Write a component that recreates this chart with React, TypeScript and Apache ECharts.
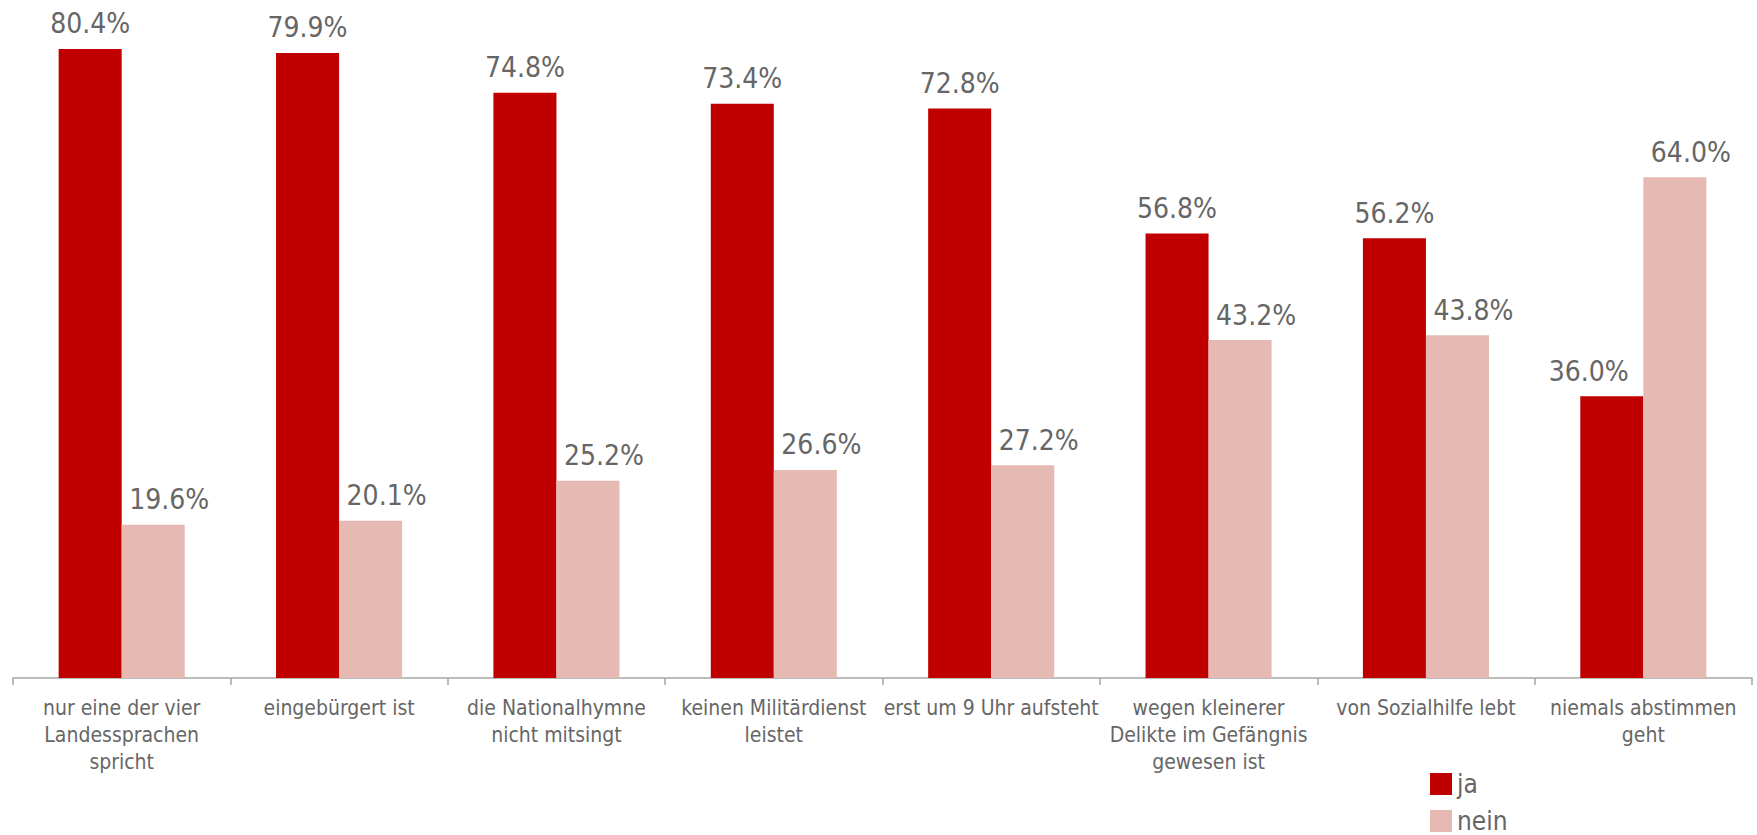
import React, { useEffect, useRef } from "react";
import * as echarts from "echarts";

const categories = [
  "nur eine der vier\nLandessprachen\nspricht",
  "eingebürgert ist",
  "die Nationalhymne\nnicht mitsingt",
  "keinen Militärdienst\nleistet",
  "erst um 9 Uhr aufsteht",
  "wegen kleinerer\nDelikte im Gefängnis\ngewesen ist",
  "von Sozialhilfe lebt",
  "niemals abstimmen\ngeht",
];
const jaValues = [80.4, 79.9, 74.8, 73.4, 72.8, 56.8, 56.2, 36.0];
const neinValues = [19.6, 20.1, 25.2, 26.6, 27.2, 43.2, 43.8, 64.0];
const seriesNames = ["ja", "nein"];

const FONT = "'DejaVu Sans Condensed', 'Liberation Sans Narrow', 'DejaVu Sans', sans-serif";
const TEXT = "#666666";

export default function App() {
  const ref = useRef<HTMLDivElement>(null);
  useEffect(() => {
    if (!ref.current) return;
    const chart = echarts.init(ref.current, undefined, { renderer: "svg" });
    const baseLabel = {
      show: true,
      position: "top" as const,
      distance: 11,
      color: TEXT,
      fontFamily: FONT,
      fontSize: 28,
      formatter: (p: any) => Number(p.value).toFixed(1) + "%",
    };
    const jaData = jaValues.map((v, i) =>
      i === jaValues.length - 1 ? { value: v, label: { offset: [-23, 0] } } : v
    );
    const legendCommon = {
      orient: "horizontal",
      left: 1430,
      padding: 0,
      itemWidth: 22,
      itemHeight: 22,
      itemGap: 6,
      icon: "rect",
      textStyle: { color: TEXT, fontSize: 26, fontFamily: FONT, lineHeight: 22 },
    };
    chart.setOption({
      animation: false,
      backgroundColor: "#ffffff",
      textStyle: { fontFamily: FONT },
      grid: { left: 13, right: 5, top: 13, bottom: 157, containLabel: false },
      legend: [
        { ...legendCommon, top: 771, data: [seriesNames[0]] },
        { ...legendCommon, top: 808, data: [seriesNames[1]] },
      ],
      xAxis: {
        type: "category",
        data: categories,
        boundaryGap: true,
        axisLine: { lineStyle: { color: "#A6A6A6", width: 1.5 } },
        axisTick: { show: true, length: 7, lineStyle: { color: "#A6A6A6", width: 1.5 } },
        axisLabel: {
          interval: 0,
          color: TEXT,
          fontSize: 21,
          lineHeight: 27,
          margin: 16,
          fontFamily: FONT,
        },
      },
      yAxis: {
        type: "value",
        min: 0,
        max: 85,
        show: false,
        splitLine: { show: false },
      },
      series: [
        {
          name: seriesNames[0],
          type: "bar",
          data: jaData,
          itemStyle: { color: "#C00000" },
          barGap: "0%",
          barCategoryGap: "42%",
          label: baseLabel,
        },
        {
          name: seriesNames[1],
          type: "bar",
          data: neinValues,
          itemStyle: { color: "#E6B9B3" },
          barGap: "0%",
          barCategoryGap: "42%",
          label: { ...baseLabel, offset: [16, 0] },
        },
      ],
    });
    return () => chart.dispose();
  }, []);
  return (
    <div
      ref={ref}
      style={{ position: "fixed", left: 0, top: 0, width: 1757, height: 835 }}
    />
  );
}
